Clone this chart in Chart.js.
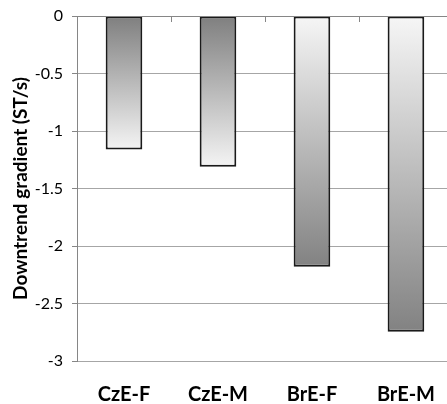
<!DOCTYPE html>
<html>
<head>
<meta charset="utf-8">
<script src="https://cdn.jsdelivr.net/npm/chart.js@4.4.0/dist/chart.umd.min.js"></script>
<style>
  html, body { margin: 0; padding: 0; background: #fff; overflow: hidden; }
  #wrap { width: 457px; height: 404px; }
</style>
</head>
<body>
<div id="wrap"><canvas id="myChart"></canvas></div>
<script>
const categories = ['CzE-F', 'CzE-M', 'BrE-F', 'BrE-M'];
const gradients = [-1.16, -1.31, -2.18, -2.745];
// which end of the bar is dark: true = dark at the zero line
const darkAtTop = [true, true, false, false];

const FONT = 'Lato, "Open Sans", sans-serif';

function barFill(context) {
    const chart = context.chart;
    const y = chart.scales.y;
    if (!y || !chart.chartArea) return '#aaa';
    const v = context.raw;
    const top = y.getPixelForValue(0);
    const bottom = y.getPixelForValue(v);
    if (!isFinite(top) || !isFinite(bottom) || top === bottom) return '#aaa';
    const g = chart.ctx.createLinearGradient(0, top, 0, bottom);
    if (darkAtTop[context.dataIndex]) {
        g.addColorStop(0, '#7f7f7f');
        g.addColorStop(1, '#f4f4f4');
    } else {
        g.addColorStop(0, '#f6f6f6');
        g.addColorStop(1, '#828282');
    }
    return g;
}

// small tick marks on the zero line between categories
const zeroTicks = {
    id: 'zeroTicks',
    afterDatasetsDraw(chart) {
        const x = chart.scales.x, y = chart.scales.y;
        const ctx = chart.ctx;
        const y0 = y.getPixelForValue(0);
        const half = (x.getPixelForValue(1) - x.getPixelForValue(0)) / 2;
        ctx.save();
        ctx.strokeStyle = '#868686';
        ctx.lineWidth = 1;
        ctx.beginPath();
        for (let i = 0; i < categories.length - 1; i++) {
            const px = Math.round(x.getPixelForValue(i) + half) + 0.5;
            ctx.moveTo(px, y0);
            ctx.lineTo(px, y0 + 6);
        }
        ctx.moveTo(chart.chartArea.left, y0 + 0.5);
        ctx.lineTo(chart.chartArea.right, y0 + 0.5);
        ctx.stroke();
        ctx.restore();
    }
};

let ctx = document.getElementById('myChart');
let myChart = new Chart(ctx, {
    type: 'bar',
    data: {
        labels: categories,
        datasets: [{
            data: gradients,
            backgroundColor: barFill,
            borderColor: '#1a1a1a',
            borderWidth: 2,
            borderSkipped: false,
            barPercentage: 0.39,
            categoryPercentage: 1.0
        }]
    },
    plugins: [zeroTicks],
    options: {
        responsive: true,
        maintainAspectRatio: false,
        animation: false,
        layout: {
            padding: { left: 0, right: 0, top: 16, bottom: 0 }
        },
        plugins: {
            legend: { display: false },
            tooltip: { enabled: false }
        },
        scales: {
            x: {
                position: 'bottom',
                grid: { display: false, drawTicks: false },
                border: { display: false },
                ticks: {
                    color: '#000',
                    padding: 22,
                    font: { family: FONT, size: 20, weight: 'bold' }
                },
                afterFit(scale) { scale.height = 43; }
            },
            y: {
                min: -3,
                max: 0,
                ticks: {
                    stepSize: 0.5,
                    color: '#000',
                    padding: 9,
                    font: { family: FONT, size: 16 },
                    callback: (v) => String(v)
                },
                grid: {
                    color: '#a6a6a6',
                    tickLength: 5,
                    tickColor: '#868686'
                },
                border: { color: '#868686', width: 1 },
                title: {
                    display: true,
                    text: 'Downtrend gradient (ST/s)',
                    color: '#000',
                    padding: { top: 9, bottom: 0 },
                    font: { family: FONT, size: 19, weight: 'bold' }
                },
                afterFit(scale) {
                    scale.width = 77;
                    scale.paddingTop = 0;
                    scale.paddingBottom = 0;
                }
            }
        }
    }
});
</script>
</body>
</html>
